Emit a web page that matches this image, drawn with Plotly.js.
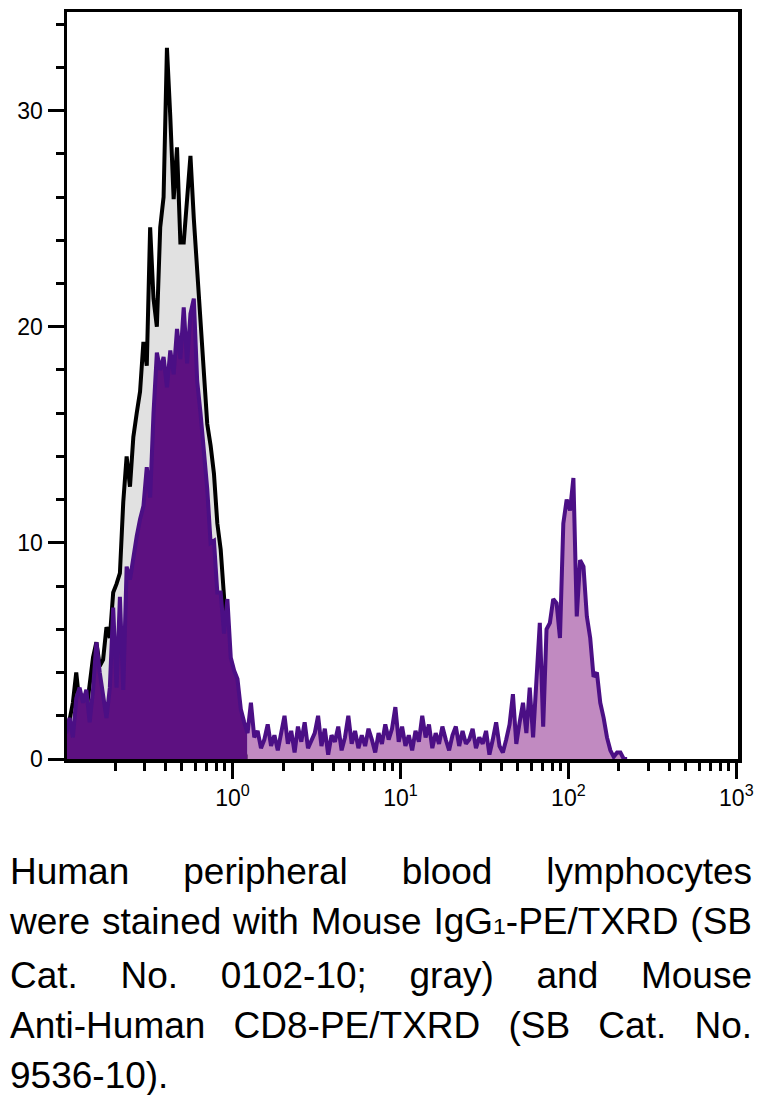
<!DOCTYPE html>
<html>
<head>
<meta charset="utf-8">
<script src="https://cdn.plot.ly/plotly-3.0.1.min.js"></script>
<style>
  body { margin: 0; background: #fff; }
  #plot { position: absolute; left: 0; top: 0; width: 762px; height: 820px; }
  #caption { position: absolute; left: 10px; top: 847px; width: 742px;
    font-family: "Liberation Sans", Arial, sans-serif; font-size: 37px; line-height: 50px; color: #000; }
  #caption div { text-align: justify; text-align-last: justify; }
  #caption div.last { text-align-last: left; }
  .sub { font-size: 0.62em; }
</style>
</head>
<body>
<div id="plot"></div>
<div id="caption">
  <div>Human peripheral blood lymphocytes</div>
  <div>were stained with Mouse IgG<span class="sub">1</span>-PE/TXRD (SB</div>
  <div>Cat. No. 0102-10; gray) and Mouse</div>
  <div>Anti-Human CD8-PE/TXRD (SB Cat. No.</div>
  <div class="last">9536-10).</div>
</div>
<script>
// histogram channels, log10 of fluorescence
var logBins = [
  -0.99,-0.97,-0.95,-0.93,-0.91,-0.89,-0.87,-0.85,-0.83,-0.81,
  -0.79,-0.77,-0.75,-0.73,-0.71,-0.69,-0.67,-0.65,-0.63,-0.61,
  -0.59,-0.57,-0.55,-0.53,-0.51,-0.49,-0.47,-0.45,-0.43,-0.41,
  -0.39,-0.37,-0.35,-0.33,-0.31,-0.29,-0.27,-0.25,-0.23,-0.21,
  -0.19,-0.17,-0.15,-0.13,-0.11,-0.09,-0.07,-0.05,-0.03,-0.01,
  0.01,0.03,0.05,0.07,0.09,0.11,0.13,0.15,0.17,0.19,
  0.21,0.23,0.25,0.27,0.29,0.31,0.33,0.35,0.37,0.39,
  0.41,0.43,0.45,0.47,0.49,0.51,0.53,0.55,0.57,0.59,
  0.61,0.63,0.65,0.67,0.69,0.71,0.73,0.75,0.77,0.79,
  0.81,0.83,0.85,0.87,0.89,0.91,0.93,0.95,0.97,0.99,
  1.01,1.03,1.05,1.07,1.09,1.11,1.13,1.15,1.17,1.19,
  1.21,1.23,1.25,1.27,1.29,1.31,1.33,1.35,1.37,1.39,
  1.41,1.43,1.45,1.47,1.49,1.51,1.53,1.55,1.57,1.59,
  1.61,1.63,1.65,1.67,1.69,1.71,1.73,1.75,1.77,1.79,
  1.81,1.83,1.85,1.87,1.89,1.91,1.93,1.95,1.97,1.99,
  2.01,2.03,2.05,2.07,2.09,2.11,2.13,2.15,2.17,2.19,
  2.21,2.23,2.25,2.27,2.29,2.31,2.33,2.35
];

// Mouse IgG1 isotype control (gray)
var isotypeCounts = [
  1.5, 1.8, 2.6, 4.0, 2.5, 3.0, 2.2, 3.6, 4.7, 5.4,
  4.3, 4.6, 6.1, 5.6, 7.7, 8.1, 8.6, 11.9, 14.0, 12.6,
  14.9, 16.0, 17.0, 19.3, 18.2, 24.6, 21.3, 20.0, 24.6, 26.0,
  32.9, 29.7, 25.9, 28.3, 23.9, 23.9, 26.2, 27.9, 25.0, 22.6,
  20.3, 17.5, 15.5, 14.5, 13.2, 10.9, 9.7, 7.5, 4.9, 4.3,
  2.1, 1.5, 0.6, 0.3, 0
];

// Anti-Human CD8
var cd8Counts = [
  1.2, 1.9, 1.0, 2.8, 3.3, 2.6, 3.2, 1.7, 3.2, 5.4,
  4.0, 3.0, 1.9, 3.3, 7.0, 3.3, 7.5, 3.2, 8.9, 8.3,
  9.4, 10.3, 11.1, 11.7, 13.5, 12.1, 16.0, 18.8, 18.0, 18.6,
  17.2, 18.9, 17.8, 19.9, 18.5, 20.9, 18.3, 20.6, 21.3, 17.5,
  16.0, 14.2, 12.5, 10.0, 10.1, 7.7, 7.7, 5.8, 7.4, 4.7,
  4.1, 3.7, 2.3, 1.7, 1.2, 2.6, 1.0, 1.3, 0.5, 0.9,
  1.6, 0.6, 1.1, 0.4, 1.2, 2.0, 0.7, 1.3, 0.3, 1.5,
  0.8, 1.7, 0.5, 0.9, 1.2, 2.0, 0.6, 1.4, 0.2, 1.1,
  0.8, 1.5, 0.4, 1.0, 2.0, 0.7, 1.3, 0.5, 1.1, 0.6,
  1.4, 0.9, 0.3, 1.2, 0.7, 1.6, 0.9, 1.4, 2.4, 0.8,
  1.5, 0.6, 1.1, 0.4, 1.3, 0.8, 2.0, 1.0, 1.6, 0.5,
  1.2, 0.7, 1.5, 0.9, 0.4, 1.1, 1.5, 0.6, 1.3, 0.7,
  0.9, 1.4, 0.5, 1.0, 0.7, 1.3, 0.2, 0.9, 1.7, 0.6,
  0.3, 0.9, 1.6, 3.0, 0.7, 1.7, 2.6, 1.2, 3.3, 1.0,
  3.8, 6.3, 1.5, 6.0, 6.3, 7.4, 7.2, 5.6, 10.9, 12.0,
  11.5, 13.0, 6.6, 9.2, 8.9, 6.6, 5.6, 3.8, 4.0, 2.6,
  1.9, 1.0, 0.4, 0.1, 0.3, 0.3, 0, 0
];

// axis ticks
var xTickVals = [1, 10, 100, 1000];
var xTickText = ["10<sup>0</sup>", "10<sup>1</sup>", "10<sup>2</sup>", "10<sup>3</sup>"];
var xMinorVals = [0.2, 0.3, 0.4, 0.5, 0.6, 0.7, 0.8, 0.9,
  2, 3, 4, 5, 6, 7, 8, 9,
  20, 30, 40, 50, 60, 70, 80, 90,
  200, 300, 400, 500, 600, 700, 800, 900];

// where the isotype histogram ends, CD8 fill turns from dark to light
var splitIndex = isotypeCounts.length - 1;

var fl = logBins.map(function (v) { return Math.pow(10, v); });

var isotype = {
  x: fl.slice(0, isotypeCounts.length), y: isotypeCounts,
  type: "scatter", mode: "lines", fill: "tozeroy", fillcolor: "#e1e1e1",
  line: { color: "#000000", width: 4 }
};
var cd8Low = {
  x: fl.slice(0, splitIndex + 1), y: cd8Counts.slice(0, splitIndex + 1),
  type: "scatter", mode: "lines", fill: "tozeroy", fillcolor: "#5d1181",
  line: { width: 0 }
};
var cd8High = {
  x: fl.slice(splitIndex), y: cd8Counts.slice(splitIndex),
  type: "scatter", mode: "lines", fill: "tozeroy", fillcolor: "#c18ac1",
  line: { width: 0 }
};
var cd8Line = {
  x: fl.slice(0, cd8Counts.length), y: cd8Counts,
  type: "scatter", mode: "lines",
  line: { color: "#4b0f85", width: 4 }
};

var data = [isotype, cd8Low, cd8High, cd8Line];

var tickFont = { family: "Liberation Sans, Arial, sans-serif", size: 23, color: "#000" };

var layout = {
  width: 762, height: 820,
  margin: { l: 67, r: 24, t: 12, b: 61 },
  paper_bgcolor: "#fff", plot_bgcolor: "#fff",
  showlegend: false, hovermode: false,
  xaxis: {
    type: "log", range: [-0.985, 3.01],
    showgrid: false, zeroline: false,
    showline: true, linecolor: "#000", linewidth: 3.5, mirror: true,
    ticks: "outside", ticklen: 16, tickwidth: 3, tickcolor: "#000",
    tickmode: "array", tickvals: xTickVals, ticktext: xTickText, tickfont: tickFont,
    minor: { ticks: "outside", ticklen: 8, tickwidth: 3, tickcolor: "#000",
      tickmode: "array", tickvals: xMinorVals, showgrid: false }
  },
  yaxis: {
    range: [0, 34.56],
    showgrid: false, zeroline: false,
    showline: true, linecolor: "#000", linewidth: 3.5, mirror: true,
    ticks: "outside", ticklen: 16, tickwidth: 3, tickcolor: "#000",
    dtick: 10, tickfont: tickFont,
    minor: { ticks: "outside", ticklen: 8, tickwidth: 3, tickcolor: "#000", dtick: 2, showgrid: false }
  }
};

Plotly.newPlot("plot", data, layout, { staticPlot: true, displayModeBar: false });
</script>
</body>
</html>
